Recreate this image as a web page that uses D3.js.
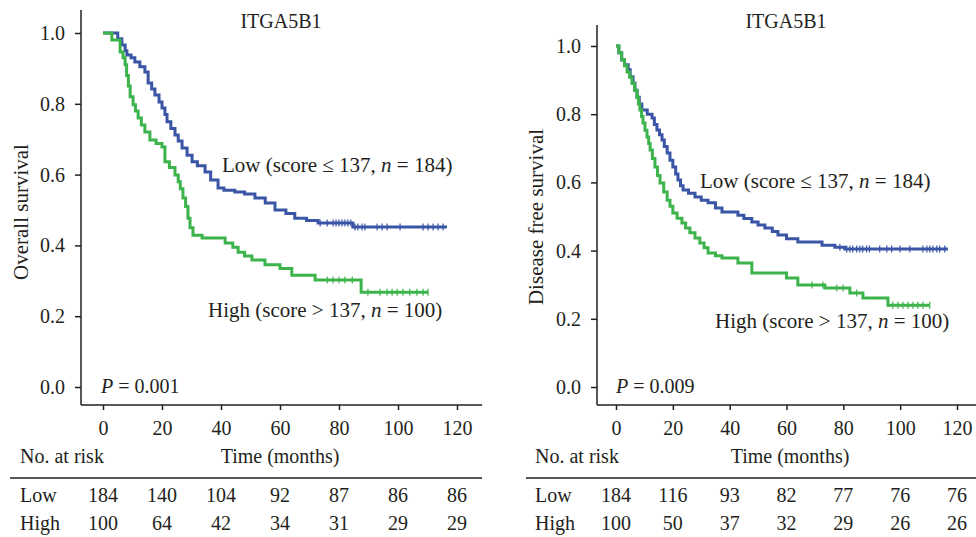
<!DOCTYPE html>
<html>
<head>
<meta charset="utf-8">
<script src="https://cdn.jsdelivr.net/npm/d3@7"></script>
<style>
  body { margin: 0; background: #fff; }
  svg { display: block; }
  text { font-family: "Liberation Serif", "Times New Roman", serif; fill: #231f20; }
</style>
</head>
<body>
<svg id="chart" width="976" height="537"></svg>
<script>
// Tick labels shared by both panels
const timeTicks = [0, 20, 40, 60, 80, 100, 120];
const survTicks = [0, 0.2, 0.4, 0.6, 0.8, 1.0];
const riskGroups = ["Low", "High"];

// Overall survival, low group (step times in months, survival after each step)
const osLowT = [0, 5, 6.4, 7.5, 8.1, 9.5, 10.8, 12.5, 14.2, 15.3, 16.5, 17.6, 19, 20, 21, 21.7, 23, 24.4, 25.5, 26.8, 28.5, 30.2, 32, 34.6, 36.5, 39, 41, 44.7, 48, 51.5, 55, 58.3, 62, 65, 69, 72.9, 84.7, 116.6];
const osLowS = [1, 0.984, 0.966, 0.95, 0.938, 0.93, 0.918, 0.905, 0.89, 0.859, 0.842, 0.825, 0.805, 0.788, 0.77, 0.749, 0.73, 0.712, 0.695, 0.675, 0.655, 0.636, 0.625, 0.607, 0.585, 0.562, 0.556, 0.551, 0.545, 0.534, 0.52, 0.5, 0.49, 0.477, 0.47, 0.463, 0.452, 0.452];
const osLowCens = [73.6, 76, 78, 79, 80, 81, 82, 83, 84, 85.4, 86.4, 87.8, 88.8, 92.9, 94.6, 96.3, 100.7, 108.5, 110.2, 111.9, 113.6, 115.3];

// Overall survival, high group
const osHighT = [0, 3, 5.8, 6.8, 7.5, 8, 8.6, 9.2, 10.2, 11, 11.9, 13, 14.2, 15.9, 18, 20, 21, 22.5, 24.4, 25.5, 26.2, 27.1, 28, 28.8, 29.5, 30.5, 33.6, 41.4, 44, 45.8, 48, 50.5, 54.9, 60, 64, 71.9, 87.5, 110.2];
const osHighS = [1, 0.98, 0.946, 0.93, 0.91, 0.88, 0.85, 0.82, 0.797, 0.78, 0.76, 0.74, 0.72, 0.698, 0.688, 0.678, 0.636, 0.62, 0.599, 0.58, 0.56, 0.534, 0.51, 0.477, 0.45, 0.429, 0.421, 0.407, 0.395, 0.381, 0.37, 0.359, 0.345, 0.335, 0.316, 0.302, 0.268, 0.268];
const osHighCens = [76, 78, 80, 82, 84.5, 89.8, 93.9, 96.3, 98, 99.7, 101.7, 104, 106.4, 108.5, 110.2];

// Disease free survival, low group
const dfsLowT = [0, 1, 2, 3, 4.3, 5, 6, 6.7, 7.4, 8.2, 9.1, 11, 12.7, 13.5, 14.4, 15.3, 16.2, 17, 18, 19, 20, 21, 21.8, 22.7, 23.6, 25.5, 27.8, 30, 32.4, 35, 37.3, 42.9, 45, 47.8, 50, 52.4, 55, 57, 60, 64, 72.5, 77, 80.5, 116.8];
const dfsLowS = [1, 0.98, 0.959, 0.945, 0.93, 0.91, 0.891, 0.87, 0.85, 0.83, 0.812, 0.8, 0.789, 0.77, 0.754, 0.74, 0.724, 0.705, 0.686, 0.665, 0.645, 0.625, 0.607, 0.59, 0.578, 0.568, 0.557, 0.548, 0.54, 0.525, 0.513, 0.504, 0.494, 0.484, 0.475, 0.466, 0.456, 0.446, 0.435, 0.425, 0.416, 0.41, 0.405, 0.405];
const dfsLowCens = [78.8, 81.2, 82.3, 83.3, 84.7, 85.8, 86.8, 88.2, 89.2, 92.8, 95.3, 97, 99.9, 103.4, 108, 109.4, 110.4, 111.5, 112.9, 113.9, 115.7];

// Disease free survival, high group
const dfsHighT = [0, 1, 2, 3, 3.9, 4.8, 5.6, 6.5, 7.4, 7.9, 8.4, 9, 9.5, 10.2, 10.9, 11.5, 12, 12.8, 13.7, 14.6, 15.5, 16.8, 18, 19, 20, 21.5, 23.2, 24.5, 26, 27.8, 29.5, 31, 32.4, 35, 37.3, 42.9, 47.8, 60, 64, 73.5, 82.3, 86.9, 95.7, 110.4];
const dfsHighS = [1, 0.98, 0.96, 0.942, 0.924, 0.908, 0.891, 0.87, 0.85, 0.83, 0.812, 0.793, 0.774, 0.753, 0.733, 0.714, 0.695, 0.67, 0.645, 0.62, 0.598, 0.572, 0.548, 0.53, 0.51, 0.495, 0.481, 0.466, 0.452, 0.437, 0.422, 0.408, 0.393, 0.385, 0.378, 0.364, 0.334, 0.32, 0.299, 0.29, 0.276, 0.261, 0.24, 0.24];
const dfsHighCens = [69, 72.8, 77.7, 79.9, 84.7, 97.4, 99.2, 101, 102.7, 104.5, 106.2, 108, 110.4];

// Numbers at risk
const osRiskLow = [184, 140, 104, 92, 87, 86, 86];
const osRiskHigh = [100, 64, 42, 34, 31, 29, 29];
const dfsRiskLow = [184, 116, 93, 82, 77, 76, 76];
const dfsRiskHigh = [100, 50, 37, 32, 29, 26, 26];

const blue = "#3a55a5";
const green = "#3cb44b";
const ink = "#231f20";
const svg = d3.select("#chart");

function drawPanel(p) {
    const g = svg.append("g");
    const x = d3.scaleLinear().domain([0, 120]).range([p.x0, p.x120]);
    const y = d3.scaleLinear().domain([0, 1]).range([p.y0, p.y1]);

    // axis lines
    g.append("line")
        .attr("x1", p.axisX).attr("x2", p.axisX)
        .attr("y1", p.axisTop).attr("y2", p.axisBottom)
        .attr("stroke", ink).attr("stroke-width", 1.5);
    g.append("line")
        .attr("x1", p.axisX).attr("x2", p.axisRight)
        .attr("y1", p.axisBottom).attr("y2", p.axisBottom)
        .attr("stroke", ink).attr("stroke-width", 1.5);

    const yAxis = g.append("g")
        .attr("transform", `translate(${p.axisX},0)`)
        .call(d3.axisLeft(y).tickValues(survTicks).tickFormat(d3.format(".1f")).tickSize(6).tickPadding(10));
    const xAxis = g.append("g")
        .attr("transform", `translate(0,${p.axisBottom})`)
        .call(d3.axisBottom(x).tickValues(timeTicks).tickSize(5).tickPadding(11));
    [yAxis, xAxis].forEach(a => {
        a.select(".domain").remove();
        a.selectAll("line").attr("stroke", ink).attr("stroke-width", 1.5);
        a.selectAll("text").attr("fill", ink).style("font-size", "20px").style("font-family", null);
        a.attr("font-family", null).attr("font-size", null);
    });

    // survival curves
    const line = d3.line().curve(d3.curveStepAfter).x(d => x(d[0])).y(d => y(d[1]));
    p.series.forEach(s => {
        const pts = s.t.map((t, i) => [t, s.s[i]]);
        g.append("path")
            .attr("d", line(pts))
            .attr("fill", "none")
            .attr("stroke", s.color)
            .attr("stroke-width", 3);
        const bis = d3.bisector(d => d).right;
        g.selectAll(null)
            .data(s.cens)
            .enter()
            .append("line")
            .attr("x1", d => x(d)).attr("x2", d => x(d))
            .attr("y1", d => y(s.s[bis(s.t, d) - 1]) - 3.5)
            .attr("y2", d => y(s.s[bis(s.t, d) - 1]) + 3.5)
            .attr("stroke", s.color)
            .attr("stroke-width", 1.2);
    });

    // title, labels
    g.append("text").attr("x", p.titleX).attr("y", 28)
        .attr("text-anchor", "middle").style("font-size", "20px").text("ITGA5B1");
    g.append("text")
        .attr("transform", `translate(${p.ylabX},${p.ylabY}) rotate(-90)`)
        .attr("text-anchor", "middle").style("font-size", "21px").text(p.ylab);

    p.series.forEach(s => {
        const t = g.append("text").attr("x", s.labX).attr("y", s.labY).style("font-size", "21px");
        t.append("tspan").text(s.label[0]);
        t.append("tspan").style("font-style", "italic").text("n");
        t.append("tspan").text(s.label[1]);
    });

    const pt = g.append("text").attr("x", p.pX).attr("y", 393).style("font-size", "20px");
    pt.append("tspan").style("font-style", "italic").text("P");
    pt.append("tspan").text(" = " + p.pValue);

    // risk table
    g.append("text").attr("x", p.riskLabX).attr("y", 463).style("font-size", "20px").text("No. at risk");
    g.append("text").attr("x", p.timeLabX).attr("y", 463).attr("text-anchor", "middle")
        .style("font-size", "20px").text("Time (months)");
    g.append("line")
        .attr("x1", p.ruleX1).attr("x2", p.ruleX2)
        .attr("y1", 478).attr("y2", 478)
        .attr("stroke", ink).attr("stroke-width", 1.5);

    [p.riskLow, p.riskHigh].forEach((row, r) => {
        const ry = r === 0 ? 502 : 530;
        g.append("text").attr("x", p.riskLabX).attr("y", ry).style("font-size", "20px").text(riskGroups[r]);
        g.selectAll(null)
            .data(row)
            .enter()
            .append("text")
            .attr("x", (d, i) => x(timeTicks[i]))
            .attr("y", ry)
            .attr("text-anchor", "middle")
            .style("font-size", "20px")
            .text(d => d);
    });
}

drawPanel({
    x0: 103, x120: 457, y0: 387, y1: 33,
    axisX: 81, axisTop: 10, axisBottom: 405, axisRight: 482,
    titleX: 281, ylabX: 28, ylabY: 212, ylab: "Overall survival",
    pX: 101, pValue: "0.001",
    riskLabX: 20, timeLabX: 280, ruleX1: 10, ruleX2: 482,
    riskLow: osRiskLow, riskHigh: osRiskHigh,
    series: [
        { t: osLowT, s: osLowS, cens: osLowCens, color: blue,
          label: ["Low (score \u2264 137, ", " = 184)"], labX: 222, labY: 172 },
        { t: osHighT, s: osHighS, cens: osHighCens, color: green,
          label: ["High (score > 137, ", " = 100)"], labX: 208, labY: 317 }
    ]
});

drawPanel({
    x0: 616, x120: 957, y0: 387, y1: 46,
    axisX: 597, axisTop: 25, axisBottom: 405, axisRight: 976,
    titleX: 786, ylabX: 543, ylabY: 217, ylab: "Disease free survival",
    pX: 616, pValue: "0.009",
    riskLabX: 535, timeLabX: 790, ruleX1: 526, ruleX2: 976,
    riskLow: dfsRiskLow, riskHigh: dfsRiskHigh,
    series: [
        { t: dfsLowT, s: dfsLowS, cens: dfsLowCens, color: blue,
          label: ["Low (score \u2264 137, ", " = 184)"], labX: 700, labY: 188 },
        { t: dfsHighT, s: dfsHighS, cens: dfsHighCens, color: green,
          label: ["High (score > 137, ", " = 100)"], labX: 715, labY: 328 }
    ]
});
</script>
</body>
</html>
